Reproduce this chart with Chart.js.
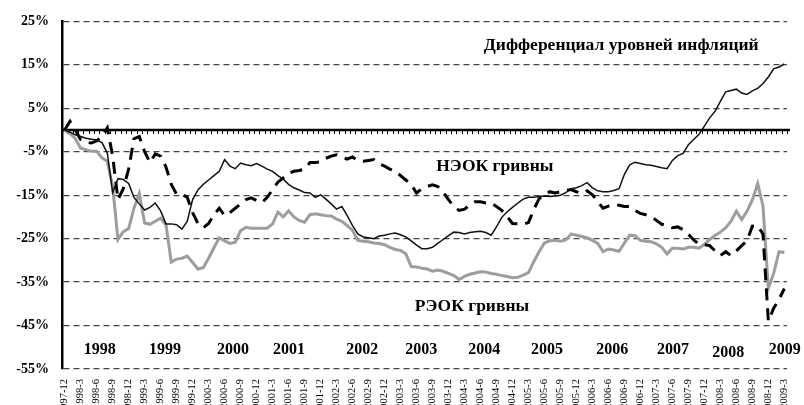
<!DOCTYPE html>
<html>
<head>
<meta charset="utf-8">
<script src="https://cdn.jsdelivr.net/npm/chart.js@4/dist/chart.umd.min.js"></script>
<style>
  html, body { margin: 0; padding: 0; background: #fff; }
  #wrap { width: 804px; height: 405px; position: relative; }
</style>
</head>
<body>
<div id="wrap"><canvas id="chart"></canvas></div>
<script>
// monthly categories 1997-12 .. 2009-3
let months = ["1997-12"];
for (let y = 1998; y <= 2009; y++) {
  for (let m = 1; m <= 12; m++) {
    if (y == 2009 && m > 3) break;
    months.push(y + "-" + m);
  }
}

// only every 3rd month gets a label on the axis
let tickLabels = [
  "1997-12", "1998-3", "1998-6", "1998-9", "1998-12", "1999-3", "1999-6", "1999-9", "1999-12",
  "2000-3", "2000-6", "2000-9", "2000-12", "2001-3", "2001-6", "2001-9", "2001-12",
  "2002-3", "2002-6", "2002-9", "2002-12", "2003-3", "2003-6", "2003-9", "2003-12",
  "2004-3", "2004-6", "2004-9", "2004-12", "2005-3", "2005-6", "2005-9", "2005-12",
  "2006-3", "2006-6", "2006-9", "2006-12", "2007-3", "2007-6", "2007-9", "2007-12",
  "2008-3", "2008-6", "2008-9", "2008-12", "2009-3"
];

// inflation differential, %
let inflDiff = [
  0, -0.5, -1.1, -1.5, -1.9, -2.1, -2.3, -2.9, -5.3, -14.4,
  -11.2, -11.4, -12.3, -15.5, -17.0, -18.4, -17.8, -16.8, -18.6, -21.6,
  -21.6, -21.8, -22.8, -21.0, -16.0, -13.8, -12.5, -11.5, -10.5, -9.5,
  -6.8, -8.3, -8.9, -7.6, -8.0, -8.2, -7.7, -8.3, -9.0, -9.5,
  -10.5, -11.3, -12.5, -13.3, -13.8, -14.4, -14.5, -15.5, -14.9, -15.9,
  -17.0, -18.2, -17.6, -19.7, -22.0, -23.9, -24.6, -24.8, -25.0, -24.4,
  -24.2, -23.9, -23.7, -24.1, -24.6, -25.5, -26.5, -27.3, -27.3, -27.0,
  -26.1, -25.2, -24.3, -23.5, -23.6, -23.9, -23.6, -23.4, -23.3, -23.6,
  -24.2, -22.3, -20.1, -18.8, -17.8, -16.8, -15.9, -15.5, -15.5, -15.3,
  -15.2, -15.3, -15.2, -15.0, -14.4, -13.5, -13.3, -12.8, -12.1, -13.3,
  -14.0, -14.2, -14.2, -13.9, -13.5, -10.2, -8.0, -7.4, -7.7, -8.0,
  -8.1, -8.4, -8.7, -8.9, -7.0, -5.9, -5.4, -3.4, -2.2, -1.0,
  0.9, 2.8, 4.3, 6.6, 8.8, 9.1, 9.4, 8.5, 8.2, 9.0,
  9.6, 10.7, 12.2, 14.1, 14.5, 15.2
];

// nominal effective exchange rate (НЭОК), %
let neer = [
  0, 2.0, 0, -2.2, -2.8, -3.0, -2.5, -1.5, 0.5, -6.0,
  -16.0, -13.5, -9.0, -2.0, -1.5, -5.0, -7.5, -5.5, -6.0, -8.5,
  -12.5, -14.8, -14.8, -15.5, -19.0, -21.5, -22.5, -21.5, -19.5, -18.0,
  -19.7, -19.0, -18.0, -17.0, -16.0, -15.6, -16.2, -16.7, -15.5, -13.7,
  -12.0, -11.0, -10.0, -9.5, -9.3, -9.0, -7.5, -7.5, -7.3, -6.5,
  -6.0, -5.7, -6.2, -6.7, -6.2, -7.0, -7.2, -7.0, -6.8, -7.8,
  -8.3, -9.0, -9.4, -10.5, -11.5, -12.5, -14.5, -13.5, -13.0, -12.6,
  -13.0, -14.3, -16.0, -17.6, -18.5, -18.2, -17.3, -16.5, -16.5, -16.8,
  -16.8, -17.6, -18.5, -19.9, -21.5, -21.6, -21.7, -21.3, -18.3, -15.8,
  -15.0, -14.2, -14.5, -14.2, -13.9, -13.7, -14.2, -14.6, -14.0, -14.9,
  -16.5, -18.0, -17.5, -17.1, -17.3, -17.6, -17.6, -18.5, -19.2, -19.5,
  -19.9, -20.8, -21.7, -22.0, -22.5, -22.3, -22.9, -24.0, -25.3, -26.3,
  -26.4, -26.6, -27.8, -28.9, -28.0, -28.9, -27.8, -26.6, -25.5, -22.1,
  -22.0, -24.0, -44.0, -41.0, -39.0, -36.5
];

// real effective exchange rate (РЭОК), %
let reer = [
  0, -0.8, -2.0, -4.2, -4.5, -4.9, -4.9, -6.4, -7.2, -13.0,
  -25.2, -23.4, -22.7, -18.0, -14.6, -21.4, -21.7, -21.0, -20.3, -21.8,
  -30.4, -29.7, -29.5, -29.0, -30.5, -32.0, -31.7, -29.5, -27.1, -24.8,
  -25.5, -26.1, -25.8, -23.2, -22.4, -22.6, -22.6, -22.6, -22.6, -21.6,
  -18.9, -20.0, -18.6, -20.0, -20.8, -21.2, -19.5, -19.3, -19.5, -19.7,
  -19.8, -20.5, -21.0, -22.0, -23.1, -25.4, -25.6, -25.7, -26.0, -26.1,
  -26.4, -27.0, -27.5, -27.7, -28.5, -31.4, -31.5, -31.8, -32.0, -32.5,
  -32.2, -32.5, -33.0, -33.5, -34.4, -33.7, -33.2, -32.9, -32.6, -32.7,
  -33.0, -33.2, -33.5, -33.7, -34.0, -33.9, -33.4, -32.8, -30.3, -28.0,
  -26.0, -25.5, -25.4, -25.6, -25.3, -23.9, -24.2, -24.5, -24.8, -25.4,
  -26.1, -28.0, -27.4, -27.6, -27.9, -26.0, -24.2, -24.3, -25.4, -25.6,
  -25.7, -26.2, -27.0, -28.5, -27.2, -27.2, -27.4, -27.0, -27.0, -27.2,
  -26.3, -25.2, -24.3, -23.5, -22.5, -21.0, -18.7, -20.6, -18.7, -16.1,
  -12.3, -17.5, -36.5, -33.0, -28.0, -28.2
];

// year captions inside the plot and where they sit (month index, % value)
let yearNames = ["1998", "1999", "2000", "2001", "2002", "2003", "2004", "2005", "2006", "2007", "2008", "2009"];
let yearSpots = [[6.6, -50.5], [18.8, -50.5], [31.6, -50.5], [42.1, -50.5], [55.8, -50.5], [66.9, -50.5],
  [78.7, -50.5], [90.5, -50.5], [102.7, -50.5], [114.1, -50.5], [124.5, -51.2], [135.1, -50.5]];

// series captions
let seriesNames = ["Дифференциал уровней инфляций", "НЭОК гривны", "РЭОК гривны"];
let seriesSpots = [[104.4, 19.4], [80.7, -8.5], [76.4, -40.7]];

let serif = "'Liberation Serif', 'Times New Roman', serif";

// thick zero line with small monthly tick marks
let zeroLine = {
  id: "zeroLine",
  beforeDatasetsDraw(chart) {
    let ctx = chart.ctx;
    let x = chart.scales.x;
    let y0 = chart.scales.y.getPixelForValue(0);
    ctx.save();
    ctx.strokeStyle = "#000";
    ctx.lineWidth = 1;
    ctx.beginPath();
    for (let k = 0; k <= months.length; k++) {
      let px = Math.round(x.getPixelForValue(k - 0.5)) + 0.5;
      ctx.moveTo(px, y0);
      ctx.lineTo(px, y0 + 4);
    }
    ctx.stroke();
    ctx.lineWidth = 2.5;
    ctx.beginPath();
    ctx.moveTo(chart.chartArea.left, y0);
    ctx.lineTo(chart.chartArea.right + 3, y0);
    ctx.stroke();
    ctx.restore();
  }
};

// text captions placed through the scales
let captions = {
  id: "captions",
  afterDraw(chart) {
    let ctx = chart.ctx;
    let x = chart.scales.x;
    let y = chart.scales.y;
    ctx.save();
    ctx.fillStyle = "#000";
    ctx.textAlign = "center";
    ctx.textBaseline = "middle";
    ctx.font = "bold 16px " + serif;
    yearNames.forEach(function (name, i) {
      ctx.fillText(name, x.getPixelForValue(yearSpots[i][0]), y.getPixelForValue(yearSpots[i][1]));
    });
    ctx.font = "bold 17.5px " + serif;
    seriesNames.forEach(function (name, i) {
      ctx.fillText(name, x.getPixelForValue(seriesSpots[i][0]), y.getPixelForValue(seriesSpots[i][1]));
    });
    ctx.restore();
  }
};

let chart = new Chart(document.getElementById("chart"), {
  type: "line",
  data: {
    labels: months,
    datasets: [
      {
        label: "Дифференциал уровней инфляций",
        data: inflDiff,
        borderColor: "#111",
        borderWidth: 1.5,
        pointRadius: 0,
        tension: 0
      },
      {
        label: "НЭОК гривны",
        data: neer,
        borderColor: "#000",
        borderWidth: 3,
        borderDash: [12, 8],
        pointRadius: 0,
        tension: 0
      },
      {
        label: "РЭОК гривны",
        data: reer,
        borderColor: "#9d9d9d",
        borderWidth: 3,
        pointRadius: 0,
        tension: 0
      }
    ]
  },
  options: {
    responsive: true,
    maintainAspectRatio: false,
    animation: false,
    layout: { padding: { top: 19, right: 17, bottom: 0, left: 0 } },
    plugins: {
      legend: { display: false },
      tooltip: { enabled: false }
    },
    scales: {
      x: {
        offset: true,
        grid: { display: false },
        border: { display: false },
        ticks: {
          autoSkip: false,
          minRotation: 90,
          maxRotation: 90,
          padding: 2,
          color: "#000",
          font: { family: serif, size: 10.5 },
          callback: function (value, index) {
            let label = months[index];
            return tickLabels.includes(label) ? label : "";
          }
        },
        afterFit: function (scale) {
          scale.height = 36;
        }
      },
      y: {
        min: -55,
        max: 25,
        grid: {
          drawTicks: false,
          lineWidth: 1.3,
          color: function (c) {
            return c.tick && c.tick.value === 0 ? "rgba(0,0,0,0)" : "#444";
          }
        },
        border: {
          display: true,
          color: "#000",
          width: 2.5,
          dash: function (c) {
            return c.type === "tick" ? [6, 4] : [];
          }
        },
        ticks: {
          stepSize: 10,
          padding: 13,
          color: "#000",
          font: { family: serif, size: 14, weight: "bold" },
          callback: function (value) {
            return value + "%";
          }
        },
        afterFit: function (scale) {
          scale.width = 62;
        }
      }
    }
  },
  plugins: [zeroLine, captions]
});
</script>
</body>
</html>
